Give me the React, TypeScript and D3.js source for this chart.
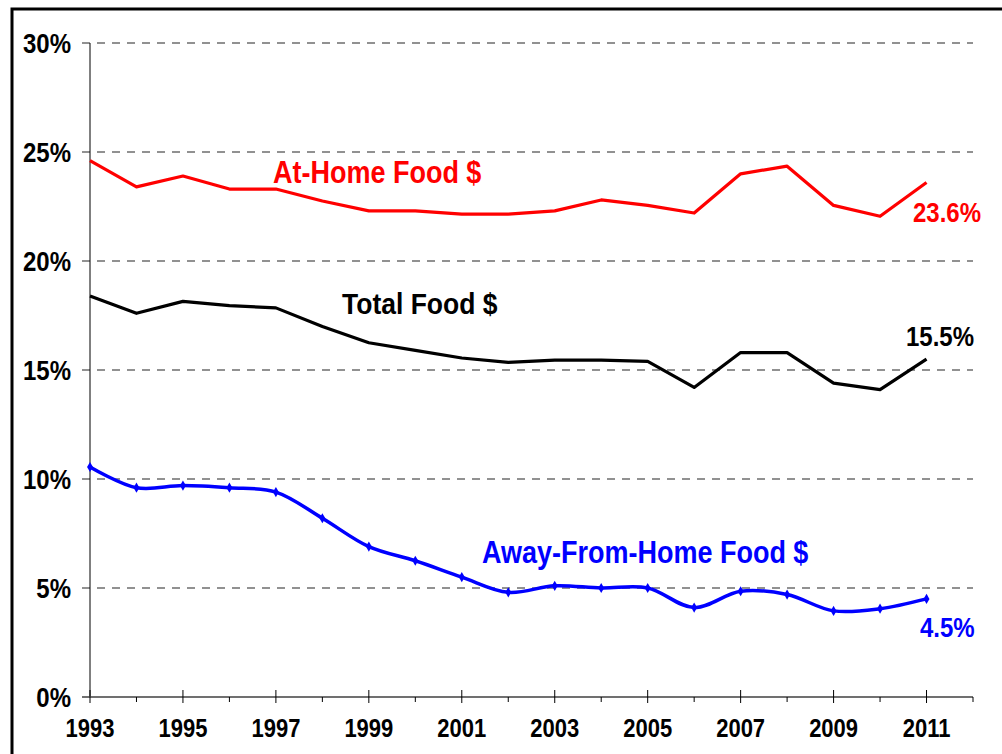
import React, { useRef, useEffect } from "react";
import * as d3 from "d3";

const YEARS = [1993, 1994, 1995, 1996, 1997, 1998, 1999, 2000, 2001, 2002, 2003, 2004, 2005, 2006, 2007, 2008, 2009, 2010, 2011];
const AT_HOME = [24.6, 23.4, 23.9, 23.3, 23.3, 22.75, 22.3, 22.3, 22.15, 22.15, 22.3, 22.8, 22.55, 22.2, 24.0, 24.35, 22.55, 22.05, 23.6];
const TOTAL = [18.4, 17.6, 18.15, 17.95, 17.85, 17.0, 16.25, 15.9, 15.55, 15.35, 15.45, 15.45, 15.4, 14.2, 15.8, 15.8, 14.4, 14.1, 15.5];
const AWAY = [10.55, 9.6, 9.7, 9.6, 9.4, 8.2, 6.9, 6.25, 5.5, 4.8, 5.1, 5.0, 5.0, 4.1, 4.85, 4.7, 3.95, 4.05, 4.5];
const Y_TICKS = [0, 5, 10, 15, 20, 25, 30];
const X_LABELS = [1993, 1995, 1997, 1999, 2001, 2003, 2005, 2007, 2009, 2011];

const W = 1002;
const H = 754;
const FONT = "'Liberation Sans', Arial, sans-serif";
const STRETCH = 1.14; // glyphs in the reference are a bit taller than Arial

export default function App() {
  const svgRef = useRef<SVGSVGElement | null>(null);

  useEffect(() => {
    const svg = d3.select(svgRef.current);
    svg.selectAll("*").remove();

    const x = d3.scaleLinear().domain([1993, 2012]).range([90, 973]);
    const y = d3.scaleLinear().domain([0, 30]).range([697, 43]);

    // frame
    svg.append("rect")
      .attr("x", 12).attr("y", 9)
      .attr("width", W + 20).attr("height", H + 20)
      .attr("fill", "white").attr("stroke", "black").attr("stroke-width", 3);

    // gridlines
    svg.append("g").selectAll("line")
      .data(Y_TICKS.filter((t) => t > 0))
      .join("line")
      .attr("x1", 82).attr("x2", 973)
      .attr("y1", (d) => y(d)).attr("y2", (d) => y(d))
      .attr("stroke", "#6e6e6e").attr("stroke-width", 1.5)
      .attr("stroke-dasharray", "8,7");

    // y axis
    svg.append("line")
      .attr("x1", x(1993)).attr("x2", x(1993))
      .attr("y1", y(30)).attr("y2", y(0))
      .attr("stroke", "black").attr("stroke-width", 1);

    svg.append("g").selectAll("text")
      .data(Y_TICKS)
      .join("text")
      .attr("transform", (d) => `translate(71,${y(d) + 9.5}) scale(1,${STRETCH})`)
      .attr("text-anchor", "end")
      .attr("font-family", FONT).attr("font-weight", "bold").attr("font-size", 24)
      .text((d) => `${d}%`);

    // x axis
    svg.append("line")
      .attr("x1", 82).attr("x2", 973)
      .attr("y1", y(0)).attr("y2", y(0))
      .attr("stroke", "#707070").attr("stroke-width", 2);

    const allTicks = d3.range(1993, 2013);
    svg.append("g").selectAll("line")
      .data(allTicks)
      .join("line")
      .attr("x1", (d) => x(d)).attr("x2", (d) => x(d))
      .attr("y1", (d) => (d % 2 === 1 && d < 2012 ? y(0) - 7 : y(0)))
      .attr("y2", (d) => (d % 2 === 1 && d < 2012 ? y(0) + 6 : y(0) + 5))
      .attr("stroke", "black").attr("stroke-width", 1);

    svg.append("g").selectAll("text")
      .data(X_LABELS)
      .join("text")
      .attr("transform", (d) => `translate(${x(d)},737) scale(1,${STRETCH})`)
      .attr("text-anchor", "middle")
      .attr("font-family", FONT).attr("font-weight", "bold").attr("font-size", 22)
      .text((d) => d);

    // lines
    const straight = d3.line<number>()
      .x((_, i) => x(YEARS[i]))
      .y((d) => y(d));

    svg.append("path")
      .attr("d", straight(AT_HOME))
      .attr("fill", "none").attr("stroke", "#ff0000").attr("stroke-width", 3.2)
      .attr("stroke-linejoin", "round");

    svg.append("path")
      .attr("d", straight(TOTAL))
      .attr("fill", "none").attr("stroke", "black").attr("stroke-width", 3.2)
      .attr("stroke-linejoin", "round");

    const smooth = d3.line<number>()
      .x((_, i) => x(YEARS[i]))
      .y((d) => y(d))
      .curve(d3.curveCatmullRom.alpha(0.5));

    svg.append("path")
      .attr("d", smooth(AWAY))
      .attr("fill", "none").attr("stroke", "#0000ff").attr("stroke-width", 3.5);

    const diamond = d3.symbol().type(d3.symbolDiamond).size(30);
    svg.append("g").selectAll("path")
      .data(AWAY)
      .join("path")
      .attr("transform", (d, i) => `translate(${x(YEARS[i])},${y(d)})`)
      .attr("d", diamond)
      .attr("fill", "#0000ff");

    // labels
    const labels = [
      { t: "At-Home Food $", x: 273, y: 183, c: "#ff0000", s: 27 },
      { t: "Total Food $", x: 342, y: 314, c: "black", s: 26.5 },
      { t: "Away-From-Home Food $", x: 482, y: 563, c: "#0000ff", s: 27 },
      { t: "23.6%", x: 913, y: 222, c: "#ff0000", s: 24 },
      { t: "15.5%", x: 906, y: 346, c: "black", s: 24 },
      { t: "4.5%", x: 920, y: 637, c: "#0000ff", s: 24 },
    ];
    svg.append("g").selectAll("text")
      .data(labels)
      .join("text")
      .attr("transform", (d) => `translate(${d.x},${d.y}) scale(1,${STRETCH})`)
      .attr("fill", (d) => d.c)
      .attr("font-family", FONT).attr("font-weight", "bold")
      .attr("font-size", (d) => d.s)
      .text((d) => d.t);
  }, []);

  return (
    <svg
      ref={svgRef}
      width={W}
      height={H}
      style={{ position: "absolute", left: 0, top: 0, background: "white" }}
    />
  );
}
